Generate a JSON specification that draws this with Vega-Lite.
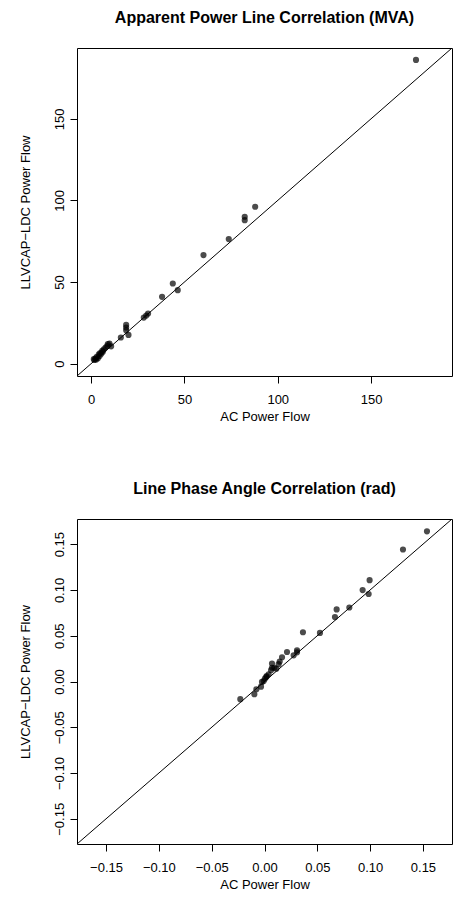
{
  "$schema": "https://vega.github.io/schema/vega-lite/v6.json",
  "padding": {"left": 18, "top": 9, "right": 0, "bottom": 0},
  "background": "white",
  "spacing": 56,
  "config": {
    "font": "Liberation Sans",
    "view": {"stroke": "black", "strokeWidth": 1},
    "axis": {
      "domain": false, "grid": false, "ticks": true, "tickSize": 7, "tickColor": "black",
      "labelFontSize": 13, "labelColor": "black", "labelFont": "Liberation Sans",
      "titleFontSize": 13, "titleFontWeight": "normal", "titleColor": "black", "titleFont": "Liberation Sans"
    },
    "axisX": {"labelPadding": 10, "titlePadding": 4},
    "axisY": {"labelAngle": 270, "labelAlign": "center", "labelBaseline": "bottom", "labelPadding": 4, "titlePadding": 21},
    "title": {"fontSize": 16, "fontWeight": "bold", "color": "black", "font": "Liberation Sans", "frame": "group", "offset": 22}
  },
  "datasets": {
    "mva": [
      {"ac": 174.1, "ll": 186.1}, {"ac": 87.9, "ll": 96.1}, {"ac": 82.3, "ll": 90.0}, {"ac": 82.3, "ll": 87.9},
      {"ac": 73.75, "ll": 76.3}, {"ac": 60.2, "ll": 66.5}, {"ac": 43.75, "ll": 49.1}, {"ac": 46.4, "ll": 45.0},
      {"ac": 38.0, "ll": 40.9}, {"ac": 30.5, "ll": 30.7}, {"ac": 29.5, "ll": 29.4}, {"ac": 28.2, "ll": 28.2},
      {"ac": 18.75, "ll": 23.7}, {"ac": 18.75, "ll": 22.1}, {"ac": 18.75, "ll": 20.4}, {"ac": 20.0, "ll": 17.6},
      {"ac": 15.9, "ll": 16.0}, {"ac": 9.8, "ll": 12.3}, {"ac": 10.7, "ll": 10.6}, {"ac": 8.9, "ll": 11.9},
      {"ac": 1.4, "ll": 2.7}, {"ac": 2.3, "ll": 3.3}, {"ac": 3.0, "ll": 4.1}, {"ac": 4.1, "ll": 5.7},
      {"ac": 4.8, "ll": 6.5}, {"ac": 5.9, "ll": 7.8}, {"ac": 6.8, "ll": 8.8}, {"ac": 7.7, "ll": 9.8},
      {"ac": 8.6, "ll": 10.8}, {"ac": 2.7, "ll": 2.5}, {"ac": 3.6, "ll": 3.3}, {"ac": 4.5, "ll": 4.7},
      {"ac": 5.4, "ll": 6.1}, {"ac": 6.25, "ll": 7.2}, {"ac": 1.8, "ll": 2.2}
    ],
    "rad": [
      {"ac": 0.1538, "ll": 0.164}, {"ac": 0.1311, "ll": 0.1442}, {"ac": 0.0995, "ll": 0.1107}, {"ac": 0.0929, "ll": 0.0999},
      {"ac": 0.0986, "ll": 0.0956}, {"ac": 0.0803, "ll": 0.0808}, {"ac": 0.0683, "ll": 0.0787}, {"ac": 0.0667, "ll": 0.0704},
      {"ac": 0.0525, "ll": 0.0531}, {"ac": 0.0364, "ll": 0.0538}, {"ac": 0.0308, "ll": 0.0341}, {"ac": 0.0308, "ll": 0.0319},
      {"ac": 0.0276, "ll": 0.0286}, {"ac": 0.0213, "ll": 0.0322}, {"ac": 0.0166, "ll": 0.0265}, {"ac": 0.0144, "ll": 0.0218},
      {"ac": 0.0112, "ll": 0.0139}, {"ac": 0.0093, "ll": 0.015}, {"ac": 0.0071, "ll": 0.0196}, {"ac": 0.0062, "ll": 0.0124},
      {"ac": 0.0039, "ll": 0.0078}, {"ac": 0.0017, "ll": 0.0049}, {"ac": -0.0008, "ll": 0.0005}, {"ac": -0.0024, "ll": -0.0005},
      {"ac": -0.0033, "ll": -0.0056}, {"ac": -0.0077, "ll": -0.0085}, {"ac": -0.0096, "ll": -0.0139}, {"ac": -0.0229, "ll": -0.0193},
      {"ac": 0.0071, "ll": 0.015}, {"ac": 0.002, "ll": 0.006}, {"ac": 0.0004, "ll": 0.0031}, {"ac": 0.0134, "ll": 0.0189}
    ],
    "diagMva": [{"v": -7.6}, {"v": 193.4}],
    "diagRad": [{"v": -0.1775}, {"v": 0.1775}]
  },
  "vconcat": [
    {
      "title": "Apparent Power Line Correlation (MVA)",
      "width": 375,
      "height": 328,
      "layer": [
        {
          "data": {"name": "diagMva"},
          "mark": {"type": "line", "color": "black", "strokeWidth": 1, "clip": true},
          "encoding": {
            "x": {"field": "v", "type": "quantitative"},
            "y": {"field": "v", "type": "quantitative"}
          }
        },
        {
          "data": {"name": "mva"},
          "mark": {"type": "circle", "color": "black", "opacity": 0.7, "size": 38},
          "encoding": {
            "x": {"field": "ac", "type": "quantitative", "title": "AC Power Flow",
                  "scale": {"domain": [-7.6, 193.4], "nice": false, "zero": false},
                  "axis": {"values": [0, 50, 100, 150]}},
            "y": {"field": "ll", "type": "quantitative", "title": "LLVCAP−LDC Power Flow",
                  "scale": {"domain": [-7.6, 193.4], "nice": false, "zero": false},
                  "axis": {"values": [0, 50, 100, 150]}}
          }
        }
      ]
    },
    {
      "title": "Line Phase Angle Correlation (rad)",
      "width": 375,
      "height": 325,
      "layer": [
        {
          "data": {"name": "diagRad"},
          "mark": {"type": "line", "color": "black", "strokeWidth": 1, "clip": true},
          "encoding": {
            "x": {"field": "v", "type": "quantitative"},
            "y": {"field": "v", "type": "quantitative"}
          }
        },
        {
          "data": {"name": "rad"},
          "mark": {"type": "circle", "color": "black", "opacity": 0.7, "size": 38},
          "encoding": {
            "x": {"field": "ac", "type": "quantitative", "title": "AC Power Flow",
                  "scale": {"domain": [-0.1775, 0.1775], "nice": false, "zero": false},
                  "axis": {"values": [-0.15, -0.1, -0.05, 0, 0.05, 0.1, 0.15], "format": ".2f"}},
            "y": {"field": "ll", "type": "quantitative", "title": "LLVCAP−LDC Power Flow",
                  "scale": {"domain": [-0.1775, 0.1775], "nice": false, "zero": false},
                  "axis": {"values": [-0.15, -0.1, -0.05, 0, 0.05, 0.1, 0.15], "format": ".2f"}}
          }
        }
      ]
    }
  ]
}
